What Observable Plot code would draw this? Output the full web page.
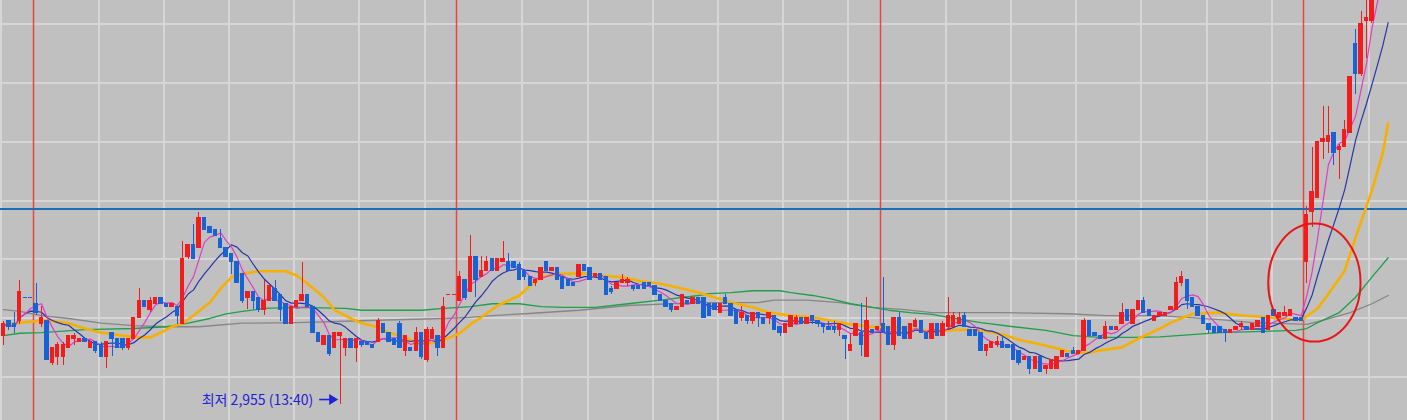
<!DOCTYPE html>
<html><head><meta charset="utf-8">
<script src="https://cdn.jsdelivr.net/npm/d3@7"></script>
<script src="https://cdn.jsdelivr.net/npm/@observablehq/plot@0.6"></script>
<style>html,body{margin:0;padding:0;background:#c0c0c0;overflow:hidden}#chart svg{display:block}</style>
</head><body><div id="chart"></div>
<script>
// 5-minute bars, 78 bars per trading day (09:00-15:25)
const open = [3070,3095,3090,3095,3135,3135,3125,3090,3095,3025,3035,3035,3050,3065,3060,3065,3050,3060,3055,3035,
3075,3065,3065,3050,3065,3100,3130,3115,3125,3135,3125,3120,3120,3090,3205,3225,3220,3270,3255,3250,
3235,3220,3210,3195,3175,3135,3145,3135,3115,3130,3150,3140,3125,3090,3120,3130,3140,3120,3075,3055,
3070,3050,3070,3050,3065,3050,3060,3060,3055,3060,3090,3075,3065,3090,3045,3050,3045,3075,3030,3065,
3070,3050,3140,3140,3130,3165,3145,3205,3170,3180,3200,3180,3195,3195,3195,3190,3180,3170,3160,3165,
3195,3180,3185,3170,3165,3160,3170,3190,3185,3170,3175,3170,3150,3150,3160,3160,3155,3155,3160,3160,
3155,3140,3130,3125,3115,3120,3130,3125,3135,3135,3125,3125,3110,3135,3125,3115,3100,3105,3095,3110,
3100,3100,3105,3085,3075,3085,3090,3100,3090,3105,3095,3090,3085,3085,3080,3070,3045,3070,3075,3035,
3080,3080,3090,3085,3055,3100,3085,3065,3085,3095,3075,3065,3090,3070,3085,3085,3090,3105,3080,3080,
3075,3045,3050,3055,3060,3055,3055,3045,3030,3035,3015,3035,3015,3015,3015,3035,3040,3045,3040,3045,
3095,3075,3070,3065,3085,3080,3090,3115,3090,3115,3130,3115,3095,3105,3105,3115,3115,3160,3165,3135,
3120,3105,3090,3085,3085,3080,3075,3080,3085,3085,3080,3085,3100,3080,3115,3100,3105,3105,3100,3100,
3195,3280,3305,3400,3400,3415,3385,3390,3415,3565,3515,3605,3605,3720,3730,3745];
const high = [3095,3095,3110,3165,3135,3135,3160,3120,3095,3050,3060,3060,3070,3075,3065,3065,3060,3060,3060,3060,
3075,3065,3065,3065,3100,3150,3130,3135,3135,3135,3125,3125,3120,3230,3225,3260,3280,3270,3255,3250,
3250,3220,3210,3195,3175,3145,3145,3135,3165,3155,3165,3140,3125,3120,3130,3195,3140,3120,3075,3070,
3070,3075,3075,3065,3065,3065,3060,3060,3055,3100,3090,3075,3065,3095,3070,3050,3085,3075,3085,3085,
3070,3135,3140,3140,3180,3165,3240,3205,3205,3205,3200,3200,3230,3210,3195,3195,3180,3170,3165,3185,
3195,3185,3185,3170,3165,3160,3190,3190,3185,3175,3175,3170,3155,3160,3175,3170,3155,3155,3160,3160,
3155,3140,3130,3125,3120,3140,3130,3135,3135,3135,3125,3125,3125,3140,3125,3115,3120,3105,3110,3110,
3100,3110,3105,3085,3090,3105,3105,3100,3100,3105,3095,3090,3095,3095,3090,3070,3075,3090,3125,3135,
3080,3085,3170,3085,3100,3110,3085,3090,3100,3095,3075,3090,3090,3095,3135,3110,3110,3110,3080,3080,
3075,3055,3060,3070,3070,3055,3055,3045,3035,3035,3035,3035,3020,3030,3035,3045,3040,3050,3045,3100,
3095,3075,3070,3095,3085,3085,3125,3115,3115,3130,3135,3115,3105,3110,3110,3120,3170,3180,3165,3135,
3120,3105,3090,3085,3085,3080,3080,3085,3095,3085,3090,3095,3100,3105,3115,3110,3120,3115,3100,3100,
3290,3390,3400,3460,3460,3415,3395,3435,3510,3590,3620,3650,3730,3760,3765,3790];
const low = [3055,3080,3075,3090,3135,3135,3105,3085,3030,3020,3020,3020,3050,3055,3060,3060,3050,3040,3035,3015,
3035,3050,3045,3045,3065,3100,3120,3110,3125,3125,3120,3120,3090,3090,3200,3200,3220,3250,3245,3240,
3220,3205,3175,3160,3125,3115,3115,3110,3105,3130,3130,3095,3090,3090,3120,3130,3120,3075,3060,3055,
3035,3050,2955,3035,3050,3025,3050,3055,3050,3060,3075,3060,3055,3050,3035,3045,3045,3030,3025,3065,
3035,3050,3140,3140,3130,3130,3145,3135,3170,3180,3180,3180,3195,3180,3185,3165,3165,3155,3155,3165,
3180,3180,3165,3150,3155,3155,3170,3180,3165,3170,3165,3140,3140,3150,3160,3155,3145,3150,3150,3155,
3140,3130,3120,3110,3115,3120,3125,3125,3125,3100,3105,3115,3110,3125,3105,3090,3095,3090,3090,3085,
3090,3090,3080,3070,3075,3085,3090,3090,3090,3090,3085,3075,3080,3075,3070,3030,3045,3070,3035,3035,
3075,3080,3075,3055,3045,3070,3065,3065,3085,3075,3065,3065,3070,3070,3080,3085,3090,3085,3070,3070,
3045,3035,3050,3050,3050,3050,3030,3020,3030,3005,3015,3010,3005,3015,3015,3035,3035,3040,3040,3045,
3070,3070,3065,3065,3080,3080,3090,3095,3090,3115,3110,3105,3095,3105,3105,3115,3115,3155,3115,3120,
3105,3090,3075,3075,3075,3060,3075,3080,3080,3080,3080,3085,3075,3080,3105,3100,3105,3105,3095,3095,
3160,3255,3305,3370,3380,3360,3335,3390,3415,3480,3510,3540,3600,3700,3715,3740];
const close = [3090,3085,3085,3145,3135,3135,3110,3100,3030,3050,3055,3055,3070,3070,3065,3060,3060,3045,3035,3060,
3065,3050,3050,3065,3100,3130,3120,3130,3135,3125,3120,3125,3105,3200,3225,3200,3270,3250,3245,3240,
3220,3205,3195,3160,3130,3145,3130,3115,3130,3155,3130,3115,3090,3120,3130,3140,3120,3075,3060,3070,
3040,3075,3075,3065,3050,3065,3055,3055,3050,3095,3075,3060,3055,3050,3070,3045,3075,3035,3080,3080,
3050,3120,3140,3140,3170,3135,3205,3165,3180,3195,3180,3200,3200,3180,3185,3165,3170,3155,3165,3185,
3180,3185,3165,3150,3155,3155,3190,3180,3165,3175,3165,3140,3145,3160,3165,3165,3150,3150,3150,3155,
3140,3130,3120,3115,3120,3140,3125,3135,3125,3100,3105,3115,3125,3125,3105,3090,3110,3095,3110,3100,
3090,3110,3080,3075,3090,3105,3100,3090,3100,3095,3090,3085,3080,3080,3090,3065,3055,3090,3055,3095,
3075,3085,3075,3055,3100,3070,3065,3090,3095,3075,3065,3090,3070,3090,3105,3105,3100,3085,3070,3070,
3045,3055,3060,3060,3050,3050,3030,3025,3035,3015,3035,3010,3020,3030,3035,3045,3035,3040,3045,3095,
3070,3070,3065,3085,3080,3085,3110,3095,3115,3130,3110,3105,3105,3110,3110,3120,3160,3170,3130,3120,
3105,3090,3080,3075,3075,3075,3080,3085,3090,3080,3090,3095,3075,3105,3105,3110,3110,3115,3095,3095,
3275,3315,3400,3405,3410,3380,3390,3420,3510,3515,3600,3610,3720,3730,3745,3775];

const dayStarts = [6, 84, 162, 240];   // 09:00 bar of each day
const barsPerDay = 78, barsPerHour = 12;
const gridPrices = [3000, 3100, 3200, 3300, 3400, 3500, 3600];
const refPrice = 3285;

// moving averages: [bar, price]
const ma20 = [[0,3088],[3,3093],[8,3097],[12,3092],[15,3083],[18,3076],[22,3071],[25,3068],[27,3068],[29,3076],[31,3086],[33,3092],[35,3105],[38,3127],[40,3151],[42,3170],[44,3176],[47,3180],[52,3180],[54,3173],[56,3159],[59,3136],[61,3114],[64,3100],[66,3092],[69,3085],[71,3076],[74,3068],[76,3059],[79,3058],[81,3063],[84,3075],[86,3090],[88,3102],[91,3122],[95,3139],[97,3156],[99,3170],[102,3176],[108,3176],[110,3173],[114,3170],[117,3164],[121,3159],[125,3151],[128,3144],[134,3127],[138,3119],[141,3110],[145,3105],[149,3102],[152,3097],[156,3090],[160,3086],[163,3085],[167,3083],[171,3078],[176,3081],[180,3080],[184,3073],[187,3064],[191,3056],[195,3047],[197,3042],[200,3042],[202,3046],[206,3051],[209,3066],[213,3083],[215,3093],[219,3108],[224,3110],[228,3105],[233,3102],[239,3097],[242,3117],[244,3142],[247,3181],[249,3237],[252,3317],[254,3380],[255,3431]];
const ma60 = [[0,3071],[3,3075],[7,3076],[15,3081],[24,3083],[30,3086],[34,3092],[38,3100],[41,3108],[44,3112],[48,3117],[54,3119],[63,3117],[66,3114],[77,3114],[81,3117],[86,3120],[90,3125],[95,3125],[99,3120],[103,3119],[109,3119],[115,3125],[121,3131],[128,3139],[130,3142],[134,3144],[138,3147],[143,3147],[145,3144],[149,3139],[152,3134],[156,3125],[160,3119],[163,3114],[167,3110],[171,3107],[174,3102],[180,3093],[186,3086],[192,3080],[197,3071],[202,3068],[208,3068],[213,3069],[224,3076],[238,3080],[240,3083],[242,3093],[246,3110],[249,3136],[252,3170],[255,3203]];
const ma120 = [[0,3115],[3,3112],[7,3105],[12,3100],[18,3092],[24,3088],[30,3086],[36,3086],[44,3092],[54,3093],[69,3097],[81,3100],[86,3102],[90,3105],[96,3108],[106,3114],[115,3122],[128,3127],[139,3127],[142,3131],[148,3131],[154,3127],[160,3119],[166,3115],[171,3110],[184,3110],[196,3108],[203,3105],[213,3105],[224,3098],[230,3093],[240,3090],[243,3097],[248,3110],[252,3125],[255,3139]];

const lowNote = {bar: 62, price: 2955, label: "최저 2,955 (13:40)"};
const circleBox = {bar1: 233, bar2: 250, price1: 3060, price2: 3260};

const UP = "#f21c1c", DOWN = "#1763d6";
const candles = open.map((o, i) => ({i, open: o, high: high[i], low: low[i], close: close[i]}));
let prevColor = UP;
candles.forEach((d, i) => {
  const pc = i ? close[i - 1] : d.close;
  let c;
  if (d.close > d.open) c = UP;
  else if (d.close < d.open) c = DOWN;
  else if (d.close > pc) c = UP;
  else if (d.close < pc) c = DOWN;
  else c = prevColor;
  d.color = c; prevColor = c;
});

const hourLines = [];
[dayStarts[0] - barsPerDay, ...dayStarts].forEach(s => {
  for (let k = 1; k <= 6; k++) hourLines.push(s + k * barsPerHour);
});
const edge = 0.45; // line sits at the left edge of the bar slot

// day separators, centred on whole pixels
function daySeparators(index, scales, values, dims) {
  const g = d3.create("svg:g");
  dayStarts.forEach(d => {
    const px = Math.floor(scales.x(d - edge)) + 0.5;
    g.append("line").attr("x1", px).attr("x2", px).attr("y1", 0).attr("y2", dims.height)
      .attr("stroke", "#e8463e").attr("stroke-width", 1.5);
  });
  return g.node();
}

function annotations(index, scales) {
  const x = scales.x, y = scales.y;
  const g = d3.create("svg:g");
  const x1 = x(circleBox.bar1), x2 = x(circleBox.bar2);
  const y1 = y(circleBox.price1), y2 = y(circleBox.price2);
  g.append("ellipse")
    .attr("cx", (x1 + x2) / 2).attr("cy", (y1 + y2) / 2)
    .attr("rx", Math.abs(x2 - x1) / 2).attr("ry", Math.abs(y1 - y2) / 2)
    .attr("fill", "none").attr("stroke", "#e81616").attr("stroke-width", 2);
  const ax = x(lowNote.bar) - 1.5, ay = y(lowNote.price) - 4;
  g.append("line").attr("x1", ax - 19).attr("x2", ax - 7).attr("y1", ay).attr("y2", ay)
    .attr("stroke", "#1e22d8").attr("stroke-width", 1.6);
  g.append("path").attr("d", `M${ax},${ay}L${ax - 9},${ay - 5.5}L${ax - 9},${ay + 5.5}Z`).attr("fill", "#1e22d8");
  return g.node();
}

const chart = Plot.plot({
  width: 1407, height: 420, margin: 0,
  style: {background: "#c0c0c0", overflow: "hidden"},
  x: {type: "linear", domain: [-0.5525, 258.56], axis: null},
  y: {type: "linear", domain: [2927.1, 3639.0], axis: null},
  color: {type: "identity"},
  marks: [
    Plot.ruleY(gridPrices, {stroke: "#d6d6d6", strokeWidth: 2, shapeRendering: "crispEdges"}),
    Plot.ruleX(hourLines, {x: d => d - edge, stroke: "#d6d6d6", strokeWidth: 2, shapeRendering: "crispEdges"}),
    daySeparators,
    Plot.ruleY([refPrice], {stroke: "#1f6cb4", strokeWidth: 2, shapeRendering: "crispEdges"}),
    Plot.line(ma120, {stroke: "#868686", strokeWidth: 1.3}),
    Plot.line(ma60, {stroke: "#1fa04a", strokeWidth: 1.3}),
    Plot.line(ma20, {stroke: "#f7b000", strokeWidth: 2.6}),
    Plot.lineY(candles, Plot.windowY({k: 10, anchor: "end", reduce: "mean"}, {x: "i", y: "close", stroke: "#2a34a8", strokeWidth: 1.2})),
    Plot.lineY(candles, Plot.windowY({k: 5, anchor: "end", reduce: "mean"}, {x: "i", y: "close", stroke: "#e03cc8", strokeWidth: 1.2})),
    Plot.ruleX(candles, {x: "i", y1: "low", y2: "high", stroke: "color", strokeWidth: 1, shapeRendering: "crispEdges"}),
    Plot.rect(candles, {x1: d => d.i - 0.4, x2: d => d.i + 0.4, y1: "open", y2: "close", fill: "color", insetTop: -0.5, insetBottom: -0.5, shapeRendering: "crispEdges"}),
    annotations,
    Plot.text([lowNote], {x: "bar", y: "price", text: "label", textAnchor: "end", dx: -27, dy: -4,
      fill: "#1e22d8", fontSize: 14, fontFamily: "Noto Sans CJK KR"})
  ]
});
document.getElementById("chart").appendChild(chart);
</script>
</body></html>
